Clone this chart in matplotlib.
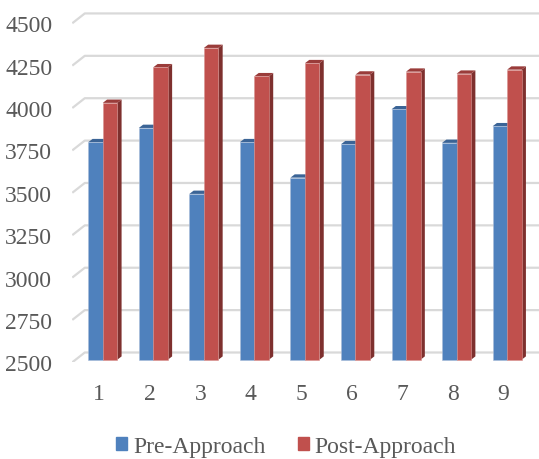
import numpy as np
import matplotlib.pyplot as plt
from matplotlib.patches import Polygon, Patch

# values per trial
trials = [1, 2, 3, 4, 5, 6, 7, 8, 9]
pre_approach = [3783, 3867, 3478, 3783, 3574, 3771, 3977, 3779, 3877]
post_approach = [4015, 4225, 4339, 4172, 4249, 4182, 4199, 4187, 4211]
series_names = ['Pre-Approach', 'Post-Approach']
y_ticks = [2500, 2750, 3000, 3250, 3500, 3750, 4000, 4250, 4500]

blue = '#4F81BD'
red = '#C0504D'
shade = {blue: ('#3B6496', '#2F5078'), red: ('#9A3C3A', '#7E302E')}  # (top, side)

plt.rcParams['font.family'] = ['Liberation Serif', 'DejaVu Serif']

fig = plt.figure(figsize=(5.39, 4.60), dpi=100)
ax = fig.add_axes([0.1341, 0.2102, 0.8659, 0.7898])
ax.set_xlim(0.4658, 9.70)
ax.set_ylim(2500, 4643)

# pixel -> data unit sizes for the fake 3D offsets
px_x = 1 / 50.54
px_y = 250 / 42.375
back = (12.5 * px_x, 9.8 * px_y)      # floor front edge -> back wall
shift = (3.5 * px_x, 2.6 * px_y)      # floor front edge -> bar front faces
depth = (4.3 * px_x, 3.3 * px_y)      # bar thickness
w = 14.5 * px_x
grid_col = '#D9D9D9'

# back wall gridlines plus the short diagonal on the floor/side wall
x0 = ax.get_xlim()[0]
for v in y_ticks:
    ax.plot([x0, x0 + back[0], ax.get_xlim()[1]], [v, v + back[1], v + back[1]],
            color=grid_col, lw=1.6, solid_capstyle='butt', zorder=1)


def draw_series(values, offset, color):
    xs = np.array(trials, dtype=float) + shift[0] + offset
    base = y_ticks[0] + shift[1]
    tops = np.array(values) + shift[1]
    ax.bar(xs, tops - base, bottom=base, width=w, color=color,
           edgecolor='#A9BCD8' if color == blue else '#D89593', linewidth=0.4, zorder=3)
    top_c, side_c = shade[color]
    for x, t in zip(xs, tops):
        xl, xr = x - w / 2, x + w / 2
        ax.add_patch(Polygon([(xr, base), (xr + depth[0], base + depth[1]),
                              (xr + depth[0], t + depth[1]), (xr, t)],
                             closed=True, color=side_c, lw=0, zorder=2))
        ax.add_patch(Polygon([(xl, t), (xr, t), (xr + depth[0], t + depth[1]),
                              (xl + depth[0], t + depth[1])],
                             closed=True, color=top_c, lw=0, zorder=2))


draw_series(pre_approach, -w / 2, blue)
draw_series(post_approach, w / 2, red)

for s in ax.spines.values():
    s.set_visible(False)
ax.set_yticks(y_ticks)
ax.set_xticks(trials)
ax.tick_params(axis='y', length=0, pad=14.5, labelsize=17, labelcolor='#595959')
ax.tick_params(axis='x', length=0, pad=15, labelsize=17, labelcolor='#595959')

handles = [Patch(color=blue), Patch(color=red)]
fig.legend(handles, series_names, loc='center', bbox_to_anchor=(0.531, 0.028),
           ncol=2, frameon=False, fontsize=17, handlelength=0.47, handleheight=0.47,
           handletextpad=0.25, columnspacing=1.35, labelcolor='#595959')

fig.savefig('out.png', dpi=100)
